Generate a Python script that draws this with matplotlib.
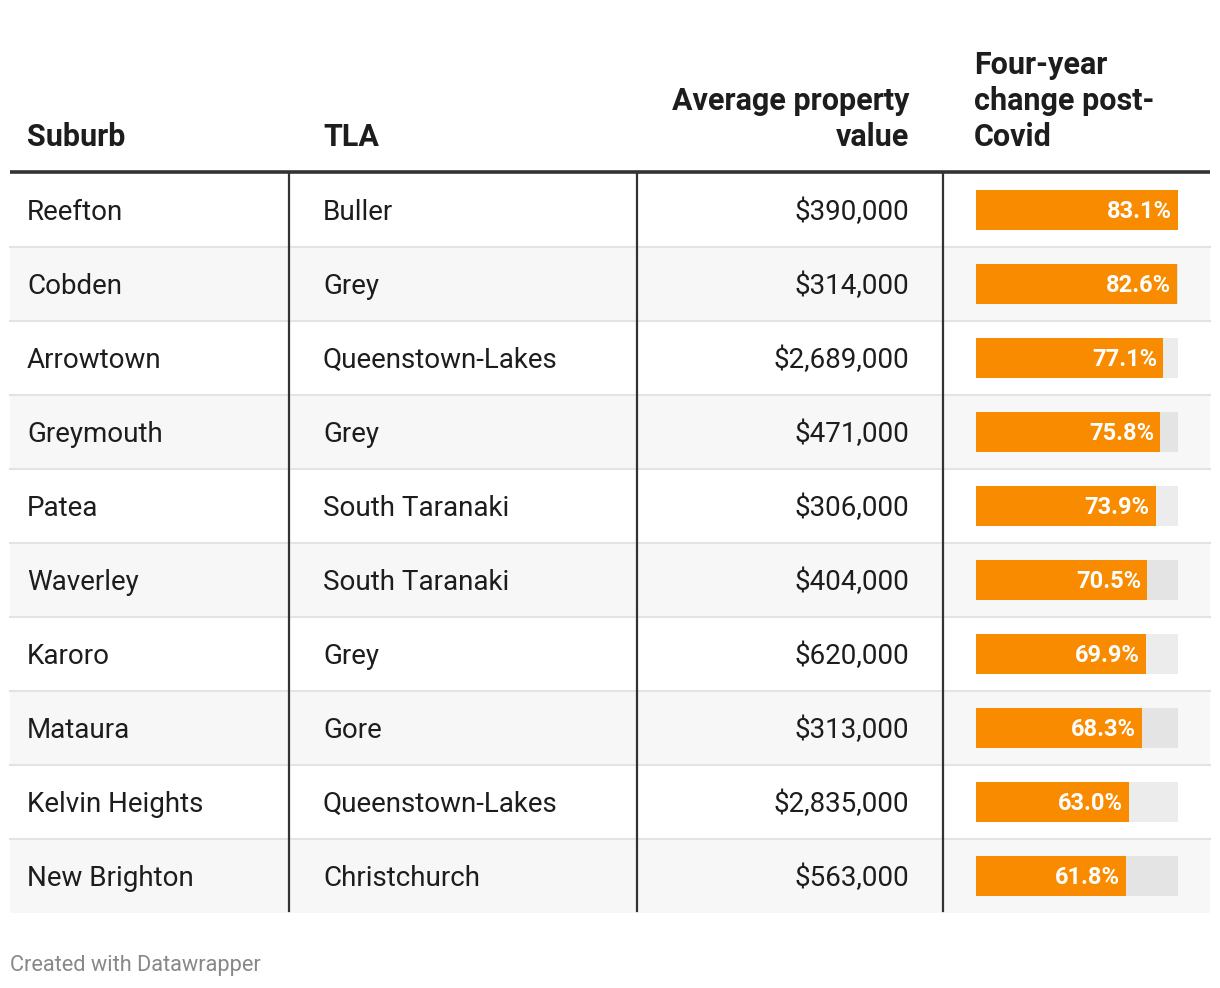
import matplotlib
matplotlib.use("Agg")
import matplotlib.pyplot as plt
from matplotlib.patches import Rectangle

suburbs = ["Reefton", "Cobden", "Arrowtown", "Greymouth", "Patea", "Waverley",
           "Karoro", "Mataura", "Kelvin Heights", "New Brighton"]
tlas = ["Buller", "Grey", "Queenstown-Lakes", "Grey", "South Taranaki", "South Taranaki",
        "Grey", "Gore", "Queenstown-Lakes", "Christchurch"]
values = ["$390,000", "$314,000", "$2,689,000", "$471,000", "$306,000", "$404,000",
          "$620,000", "$313,000", "$2,835,000", "$563,000"]
changes = [83.1, 82.6, 77.1, 75.8, 73.9, 70.5, 69.9, 68.3, 63.0, 61.8]
headers = ["Suburb", "TLA", "Average property\nvalue", "Four-year\nchange post-\nCovid"]
footer = "Created with Datawrapper"

plt.rcParams['font.family'] = ['Roboto', 'DejaVu Sans']

W, H = 1220, 988
fig = plt.figure(figsize=(W / 100, H / 100), dpi=100)
ax = fig.add_axes([0, 0, 1, 1])
ax.set_xlim(0, W)
ax.set_ylim(H, 0)
ax.axis('off')

TXT = '#1d1d1d'
left, right = 10, 1210
top = 173
rowh = 74
n = len(suburbs)
FS = 20
HFS = 22

# row backgrounds and separators
for i in range(n):
    y0 = top + i * rowh
    if i % 2 == 1:
        ax.add_patch(Rectangle((left, y0), right - left, rowh, facecolor='#f7f7f7',
                               edgecolor='none', zorder=0))
    if i < n - 1:
        ax.plot([left, right], [y0 + rowh, y0 + rowh], color='#e3e3e3', lw=1.5, zorder=1)

bottom = top + n * rowh - 2
# vertical dividers
for x in [289, 637, 943]:
    ax.plot([x, x], [top, bottom], color='#333333', lw=1.6, zorder=2)
# header rule
ax.plot([left, right], [172, 172], color='#333333', lw=2.6, zorder=3, solid_capstyle='butt')

# header text
hy = 146
ax.text(27, hy, headers[0], fontsize=HFS, fontweight='bold', color=TXT, ha='left', va='baseline')
ax.text(323, hy, headers[1], fontsize=HFS, fontweight='bold', color=TXT, ha='left', va='baseline')
ax.text(909, hy, headers[2], fontsize=HFS, fontweight='bold', color=TXT, ha='right', va='baseline',
        linespacing=1.25, multialignment='right')
ax.text(974, hy, headers[3], fontsize=HFS, fontweight='bold', color=TXT, ha='left', va='baseline',
        linespacing=1.25)

# body text
for i in range(n):
    yc = top + i * rowh + rowh / 2 + 2
    ax.text(27, yc, suburbs[i], fontsize=FS, color=TXT, ha='left', va='center')
    ax.text(323, yc, tlas[i], fontsize=FS, color=TXT, ha='left', va='center')
    ax.text(909, yc, values[i], fontsize=FS, color=TXT, ha='right', va='center')

ax.text(10, 965, footer, fontsize=15.7, color='#888888', ha='left', va='center')

# bar column
bx0, bx1 = 976, 1178
bax = fig.add_axes([bx0 / W, 1 - (top + n * rowh) / H, (bx1 - bx0) / W, n * rowh / H])
bax.set_xlim(0, max(changes))
bax.set_ylim(n - 0.5, -0.5)
bax.axis('off')
bax.patch.set_alpha(0)
ys = list(range(n))
bh = 40 / rowh
bax.barh(ys, [max(changes)] * n, height=bh, color='black', alpha=0.075, linewidth=0)
bax.barh(ys, changes, height=bh, color='#f98b00', linewidth=0)
for i, v in enumerate(changes):
    bax.annotate(f"{v:.1f}%", xy=(v, i + 0.02), xytext=(-4.5, 0), textcoords='offset points',
                 ha='right', va='center', fontsize=17, fontweight='bold', color='white')

fig.savefig("out.png", dpi=100, facecolor='white')
